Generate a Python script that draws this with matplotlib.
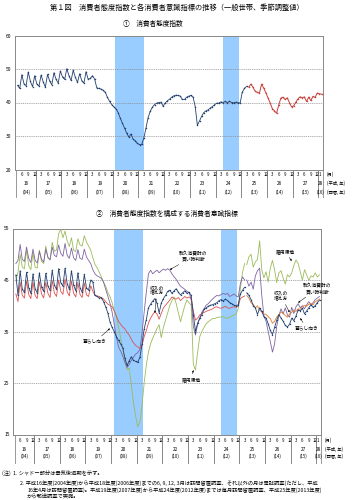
import matplotlib
matplotlib.use('Agg')
import matplotlib.pyplot as plt
import matplotlib.transforms as mtransforms
import pandas as pd

plt.rcParams['font.family'] = ['Noto Sans CJK JP', 'DejaVu Sans']

# ---------------- data ----------------
months = pd.period_range('2004-04', '2016-02', freq='M')
split = pd.Period('2013-04', freq='M')   # survey method change (mail survey)

# 消費者態度指数 (Apr 2004 - Mar 2013, then Apr 2013 - Feb 2016)
cci_old = [45.1, 44.2, 48.3, 45.6, 45.0, 49.1, 46.3, 44.7, 48.0,
           45.5, 44.9, 48.2, 46.1, 44.6, 48.4, 46.4, 45.3, 48.9, 46.9, 45.8, 49.4,
           47.6, 46.9, 50.1, 48.0, 46.6, 49.6, 47.5, 46.0, 48.6, 46.5, 45.8, 49.2,
           46.9, 47.2, 48.0,
           47.0, 44.4, 44.2, 44.0, 43.6, 43.0, 41.5, 40.3, 39.4,
           38.7, 38.1, 37.0, 35.3, 33.8, 32.3, 30.8, 29.7, 30.6, 29.0, 28.6, 27.8,
           27.4, 27.5, 29.4, 32.4, 35.5, 37.4, 38.6, 39.4, 39.8, 40.0, 40.1, 38.9,
           39.9, 40.5, 41.0, 41.6, 42.0, 42.2, 42.1, 41.9, 40.9, 40.9, 41.6, 41.9,
           42.1, 41.6, 38.8, 33.2, 34.5, 35.9, 37.0, 37.5, 37.8, 38.3, 38.8, 39.3,
           39.8, 39.8, 40.2, 40.0, 40.3, 39.9, 40.4, 40.0, 39.9, 40.1, 39.9, 39.9,
           43.1, 44.2, 44.8]
cci_new = [44.6, 45.5, 44.5, 43.4, 43.0, 42.8, 45.5, 44.3, 42.9,
           41.4, 39.9, 38.2, 37.5, 36.8, 39.2, 41.3, 41.6, 40.9, 41.4, 40.0, 38.7, 39.0,
           40.1, 41.1, 41.7, 41.4, 41.7, 40.3, 41.6, 40.6, 41.8, 41.5, 42.8, 42.6,
           42.5]

# 暮らし向き
kurashi_old = [46.0, 42.0, 46.8, 43.2, 42.6, 46.5, 43.5, 42.4, 46.2,
               43.3, 42.5, 46.4, 43.6, 42.8, 46.3, 43.8, 43.0, 46.9, 44.0, 43.2, 47.2,
               44.5, 43.8, 47.3, 44.3, 43.2, 46.8, 44.0, 42.9, 46.4, 43.5, 42.6, 46.1,
               43.5, 43.0, 45.0,
               44.6, 42.0, 41.8, 41.5, 41.6, 40.8, 39.8, 38.6, 36.9,
               35.8, 35.0, 34.0, 33.3, 32.6, 31.8, 29.8, 28.4, 29.3, 30.1, 29.4, 29.2,
               29.0, 30.0, 32.5, 35.5, 37.3, 39.6, 40.3, 40.9, 41.4, 40.5, 38.6, 40.5,
               41.4, 42.0, 42.8, 43.0, 42.4, 42.9, 43.3, 42.6, 42.1, 42.5, 42.9, 42.4,
               42.6, 42.0, 38.3, 35.0, 36.6, 37.6, 38.3, 39.3, 39.6, 39.9, 40.1, 40.2,
               40.4, 40.6, 41.0, 41.2, 40.9, 41.3, 41.0, 40.6, 40.4, 40.1, 40.0, 40.2,
               42.3, 43.0, 43.6]
kurashi_new = [42.5, 42.0, 41.2, 40.0, 39.6, 38.3, 39.6, 38.9, 37.9,
               37.6, 36.5, 35.2, 34.4, 35.8, 37.2, 38.3, 37.6, 37.0, 36.2, 35.9, 36.4, 37.6,
               37.1, 38.0, 39.2, 39.0, 39.5, 38.4, 39.0, 39.6, 40.2, 39.7, 40.0, 40.6,
               41.1]

# 収入の増え方
shunyu_old = [42.3, 40.8, 44.6, 42.0, 41.5, 44.8, 42.2, 41.4, 44.6,
              42.0, 41.4, 44.7, 42.3, 41.5, 44.6, 42.4, 41.6, 44.9, 42.5, 41.8, 45.0,
              42.8, 42.2, 45.2, 42.7, 41.9, 44.8, 42.4, 41.7, 44.5, 42.2, 41.6, 44.4,
              42.1, 41.8, 43.9,
              42.8, 42.0, 41.9, 41.8, 41.6, 41.3, 40.8, 40.3, 40.1,
              39.8, 39.0, 38.0, 37.0, 36.4, 35.9, 35.5, 34.8, 34.3, 33.5, 32.8, 32.3,
              32.0, 31.7, 32.3, 34.0, 35.2, 36.6, 37.6, 38.3, 38.8, 38.4, 37.4, 38.5,
              39.6, 40.1, 40.6, 41.1, 41.7, 41.4, 41.3, 41.6, 41.0, 41.4, 41.8, 41.5,
              41.7, 41.3, 38.9, 37.2, 37.6, 38.2, 38.5, 38.7, 38.9, 39.1, 39.2, 39.4,
              39.7, 39.8, 39.6, 39.5, 39.7, 39.9, 39.6, 39.5, 39.7, 39.8, 39.7, 39.9,
              41.4, 41.7, 41.9]
shunyu_new = [42.0, 41.5, 40.6, 40.3, 39.6, 40.0, 39.1, 38.8, 38.4,
              38.3, 37.9, 37.5, 36.6, 37.0, 37.8, 38.2, 38.8, 38.5, 38.1, 37.8, 38.4, 38.7,
              39.2, 38.9, 39.4, 39.3, 39.8, 40.1, 39.9, 40.3, 40.4, 40.2, 40.8, 41.0,
              41.3]

# 雇用環境
koyo_old = [44.8, 46.5, 50.0, 47.5, 47.2, 50.8, 47.8, 47.0, 50.3,
            47.5, 47.3, 50.8, 48.6, 48.2, 51.6, 49.3, 49.0, 52.3, 50.6, 50.8, 54.0,
            54.8, 53.2, 54.5, 52.6, 51.5, 53.2, 50.8, 50.5, 53.0, 51.8, 51.6, 53.6,
            52.4, 51.6, 50.8,
            49.3, 48.0, 47.4, 46.5, 45.6, 44.6, 43.8, 42.6, 41.8,
            40.6, 39.1, 37.8, 35.8, 33.8, 31.7, 29.3, 27.6, 27.9, 24.6, 21.2, 18.6,
            16.5, 17.4, 20.6, 25.0, 28.5, 31.0, 32.6, 33.7, 34.6, 35.6, 36.3, 33.8,
            35.8, 37.2, 38.6, 40.1, 41.0, 41.7, 40.4, 38.6, 36.9, 38.5, 40.0, 41.1,
            40.6, 40.1, 28.6, 27.5, 31.0, 34.0, 35.0, 35.8, 36.5, 36.9, 37.2, 37.5,
            37.5, 37.7, 37.8, 37.8, 37.9, 37.6, 37.6, 37.8, 38.0, 38.2, 38.4, 39.5,
            43.4, 46.5, 48.2]
koyo_new = [48.0, 49.5, 50.0, 47.5, 48.5, 49.0, 52.6, 47.0, 45.4,
            46.6, 44.6, 47.3, 48.8, 47.0, 44.5, 46.4, 46.8, 45.4, 44.2, 46.0, 45.6, 46.4,
            47.8, 48.9, 48.2, 46.6, 45.0, 47.0, 46.0, 44.9, 45.8, 45.6, 46.4, 45.6,
            46.0]

# 耐久消費財の買い時判断
taikyu_old = [48.2, 48.8, 51.9, 49.0, 48.6, 51.4, 49.2, 48.4, 51.0,
              48.8, 48.3, 50.6, 49.0, 48.5, 51.0, 49.4, 48.9, 51.4, 49.8, 49.5, 51.8,
              50.2, 49.6, 52.1, 49.8, 49.2, 51.2, 49.3, 48.8, 50.9, 49.2, 49.0, 51.0,
              49.5, 48.8, 48.2,
              47.0, 46.2, 45.8, 45.6, 45.3, 44.6, 43.2, 41.9, 40.5,
              38.8, 36.4, 34.0, 32.0, 31.2, 30.2, 29.0, 28.0, 28.6, 29.4, 30.0, 30.6,
              30.9, 31.5, 34.6, 38.8, 42.6, 46.2, 46.9, 46.2, 46.6, 46.9, 46.4, 46.8,
              47.1, 46.9, 47.2, 46.9, 46.2, 45.6, 45.1, 44.4, 43.8, 43.5, 43.2, 42.8,
              42.6, 41.2, 36.0, 34.3, 36.4, 37.6, 38.8, 39.4, 40.1, 40.4, 40.9, 41.3,
              41.7, 42.0, 41.9, 42.2, 42.4, 42.2, 42.4, 41.8, 42.0, 42.3, 41.9, 41.7,
              44.3, 45.6, 45.0]
taikyu_new = [45.0, 43.8, 44.6, 43.2, 45.8, 46.8, 47.3, 42.0, 38.0,
              37.0, 35.0, 33.0, 31.0, 32.6, 36.0, 38.1, 39.4, 38.4, 39.6, 38.2, 37.8, 39.7,
              38.5, 39.8, 40.4, 39.6, 40.0, 39.4, 40.2, 40.8, 40.2, 40.6, 41.2, 41.5,
              41.8]

recessions = [('2008-02', '2009-03'), ('2012-04', '2012-11')]
years_heisei = ['16', '17', '18', '19', '20', '21', '22', '23', '24', '25', '26', '27', '28']
years_west = ['(04)', '(05)', '(06)', '(07)', '(08)', '(09)', '(10)', '(11)', '(12)',
              '(13)', '(14)', '(15)', '(16)']
month_labels = [3, 6, 9, 12]

labels2 = [  # text, text position (month, value), arrow target (month, value)
    ('暮らし向き', ('2007-05', 33.0), ('2007-12', 35.6)),
    ('収入の\n増え方', ('2009-10', 43.0), ('2009-09', 38.6)),
    ('耐久消費財の\n買い時判断', ('2011-03', 49.6), ('2010-04', 47.0)),
    ('雇用環境', ('2011-02', 25.6), ('2011-03', 27.5)),
    ('雇用環境', ('2014-10', 50.5), ('2015-01', 48.7)),
    ('収入の\n増え方', ('2014-08', 41.9), ('2014-12', 38.7)),
    ('耐久消費財の\n買い時判断', ('2016-01', 43.3), ('2015-04', 40.6)),
    ('暮らし向き', ('2015-08', 35.6), ('2015-05', 37.6)),
]

# ---------------- helpers ----------------
def idx(p):
    return (pd.Period(p, freq='M') - months[0]).n

x_all = list(range(len(months)))
n_old = idx(str(split))
x_old = x_all[:n_old]
x_new = x_all[n_old:]

W, H = 355, 500
fig = plt.figure(figsize=(W / 100, H / 100), dpi=100)

def rect(x0, y0, x1, y1):
    return [x0 / W, 1 - y1 / H, (x1 - x0) / W, (y1 - y0) / H]

NAVY = '#22406e'
RED = '#c8413a'
RED2 = '#d9534f'
ORANGE = '#e07a2a'
GREEN = '#9bbb59'
PURPLE = '#8064a2'
SHADE = '#99ccff'
FRAME = '#888888'

XL = (-1.2, 142.7)

def style_axes(ax, ylim, yticks, grid):
    ax.set_xlim(*XL)
    ax.set_ylim(*ylim)
    ax.set_yticks(yticks)
    ax.set_yticklabels([str(t) for t in yticks], fontsize=3.6)
    ax.tick_params(axis='y', length=0, pad=2.5)
    ax.set_xticks([])
    for s in ax.spines.values():
        s.set_color(FRAME)
        s.set_linewidth(0.7)
    for g in grid:
        ax.axhline(g, color='#888888', lw=0.5, ls=(0, (1.5, 1.2)), zorder=1)
    for a, b in recessions:
        ax.axvspan(idx(a) - 0.25, idx(b) + 0.25, color=SHADE, lw=0, zorder=0.5)

def x_table(ax, axh, row_m, row_y, row_w, sep_end):
    tr = mtransforms.blended_transform_factory(ax.transData, ax.transAxes)
    for i, p in enumerate(months):
        if p.month in month_labels or (p.year == 2016 and p.month == 1):
            ax.text(i, -row_m / axh, str(p.month), transform=tr, ha='center', va='center',
                    fontsize=3.1, clip_on=False)
    for k, (yh, yw) in enumerate(zip(years_heisei, years_west)):
        yr = 2004 + k
        ids = [i for i, p in enumerate(months) if p.year == yr]
        lo = max(ids[0] - 0.5, XL[0])
        hi = min(ids[-1] + 0.5, XL[1])
        c = (lo + hi) / 2
        ax.text(c, -row_y / axh, yh, transform=tr, ha='center', va='center',
                fontsize=3.4, clip_on=False)
        ax.text(c, -row_w / axh, yw, transform=tr, ha='center', va='center',
                fontsize=3.1, clip_on=False)
        for b in (lo, hi):
            ax.plot([b, b], [0, -sep_end / axh], transform=tr, color=FRAME, lw=0.6,
                    clip_on=False)
    tra = ax.transAxes
    ax.text(1.0 + 4 / 308, -row_m / axh, '(月)', transform=tra, ha='left', va='center',
            fontsize=3.1, clip_on=False)
    ax.text(1.0 + 4 / 308, -row_y / axh, '(平成, 年)', transform=tra, ha='left', va='center',
            fontsize=3.1, clip_on=False)
    ax.text(1.0 + 4 / 308, -row_w / axh, '(西暦, 年)', transform=tra, ha='left', va='center',
            fontsize=3.1, clip_on=False)

# ---------------- top panel ----------------
ax1 = fig.add_axes(rect(15, 35.5, 323, 169.5))
style_axes(ax1, (20, 60), [20, 30, 40, 50, 60], [30, 40, 50])
ax1.plot(x_old, cci_old, color=NAVY, lw=0.6, marker='o', ms=1.1, mew=0, zorder=3)
ax1.plot(x_new, cci_new, color=RED, lw=0.7, marker='o', ms=1.1, mew=0, zorder=3)
x_table(ax1, 134, 4.8, 14.2, 22.5, 27.5)

# ---------------- bottom panel ----------------
ax2 = fig.add_axes(rect(13.3, 228.5, 321, 434.5))
style_axes(ax2, (15, 55), [15, 25, 35, 45, 55], [25, 35, 45])
ax2.plot(x_old, koyo_old, color=GREEN, lw=0.6, zorder=3)
ax2.plot(x_new, koyo_new, color=GREEN, lw=0.6, zorder=3)
ax2.plot(x_old, taikyu_old, color=PURPLE, lw=0.6, zorder=3)
ax2.plot(x_new, taikyu_new, color=PURPLE, lw=0.6, zorder=3)
ax2.plot(x_old, shunyu_old, color=RED2, lw=0.6, zorder=3)
ax2.plot(x_new, shunyu_new, color=ORANGE, lw=0.6, zorder=3)
ax2.plot(x_old, kurashi_old, color=NAVY, lw=0.6, marker='s', ms=0.9, mew=0, zorder=4)
ax2.plot(x_new, kurashi_new, color=NAVY, lw=0.6, marker='s', ms=0.9, mew=0, zorder=4)
x_table(ax2, 206, 5.5, 14.8, 21.8, 28)

for txt, (tp, tv), (ap, av) in labels2:
    ax2.annotate(txt, xy=(idx(ap), av), xytext=(idx(tp), tv), textcoords='data',
                 ha='center', va='center', fontsize=3.4, linespacing=1.05,
                 annotation_clip=False, zorder=6,
                 arrowprops=dict(arrowstyle='-|>', color='black', lw=0.35,
                                 mutation_scale=2.5, shrinkA=0.5, shrinkB=0))

# ---------------- texts ----------------
fig.text(177 / W, 1 - 8 / H, '第１図　消費者態度指数と各消費者意識指標の推移（一般世帯、季節調整値）',
         ha='center', va='center', fontsize=5.2)
fig.text(153 / W, 1 - 24 / H, '①　消費者態度指数', ha='center', va='center', fontsize=4.8)
fig.text(167 / W, 1 - 214 / H, '②　消費者態度指数を構成する消費者意識指標',
         ha='center', va='center', fontsize=4.9)

notes = [
    (2, 473.5, '(注)  1. シャドー部分は景気後退期を示す。'),
    (20, 483.0, '2. 平成16年度(2004年度)から平成18年度(2006年度)までの6, 9, 12, 3月は訪問留置調査、それ以外の月は電話調査(ただし、平成'),
    (27, 490.3, '16年4月は訪問留置調査)。平成19年度(2007年度)から平成24年度(2012年度)までは毎月訪問留置調査、平成25年度(2013年度)'),
    (27, 496.8, 'から郵送調査で実施。'),
]
for nx, ny, nt in notes:
    fig.text(nx / W, 1 - ny / H, nt, ha='left', va='center', fontsize=3.8)

fig.savefig('out.png', dpi=100)
